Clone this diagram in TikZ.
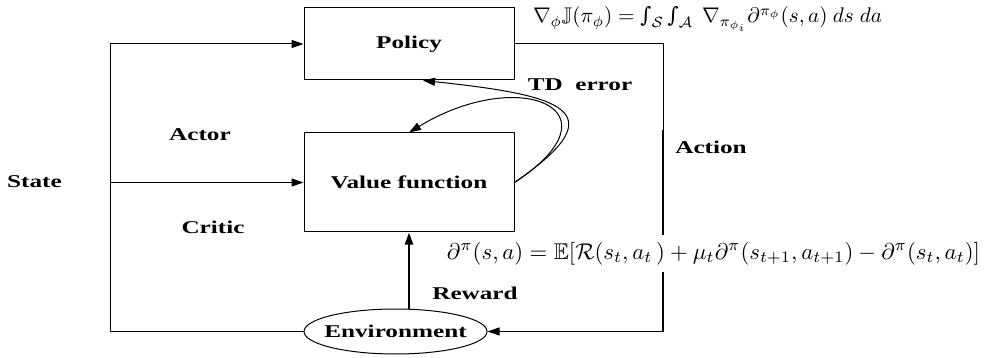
\documentclass[tikz,border=0pt]{standalone}
\usepackage{amsmath,amssymb}
\usepackage{graphicx}
\usepackage{fontspec}
\setmainfont{Liberation Serif}
\newfontfamily\djvfont{DejaVu Serif}
\usetikzlibrary{arrows.meta,shapes.geometric}
\newcommand\wtx[1]{\scalebox{1.4}[1]{#1}}
\newcommand\smint{\mathop{\hbox{\djvfont\itshape ∫}}\nolimits}
\begin{document}
\begin{tikzpicture}[x=1pt,y=-1pt,
  lbl/.style={font=\fontsize{18}{21}\selectfont\bfseries, inner sep=0pt},
  box/.style={draw, line width=1pt, rectangle, minimum width=210pt, inner sep=0pt},
  conn/.style={line width=1pt},
  arr/.style={-{Triangle[length=12pt,width=8pt]}}]
\useasboundingbox (0,0) rectangle (985,358);
\node[box, minimum height=72pt, lbl] (policy) at (409,44) {\wtx{Policy}};
\node[box, minimum height=99pt, lbl] (value) at (409,182.5) {\wtx{Value function}};
\node[draw, ellipse, line width=1pt, minimum width=183pt, minimum height=45pt, inner sep=0pt, lbl] (env) at (395.5,331.5) {\makebox[100pt]{\wtx{Environment}}};
\coordinate (lt) at (110,44);
\coordinate (lb) at (110,331.5);
\coordinate (ls) at (110,182.5);
\coordinate (rt) at (663,44);
\coordinate (rm) at (663,130);
\coordinate (rb) at (663,331.5);
\draw[conn] (env.west) -- (lb) -- (lt);
\draw[conn,arr] (lt) -- (policy.west);
\draw[conn,arr] (ls) -- (value.west);
\draw[conn] (policy.east) -- (rt) -- (rm);
\draw[line width=2pt] (rm) -- (rb);
\draw[conn,arr] (rb) -- (env.east);
\draw[line width=2.2pt,arr] (env.north -| value.south) -- (value.south);
\draw[conn,arr] (value.east) .. controls (620,110) and (560,95) .. ([xshift=14pt]policy.south);
\draw[conn,arr] (value.east) .. controls (625,110) and (520,65) .. (value.north);
\node[lbl] (tdl) at (580,85) {\wtx{TD\ \ error}};
\node[lbl] (actor) at (200,135) {\wtx{Actor}};
\node[lbl] (state) at (34.5,182) {\wtx{State}};
\node[lbl] (critic) at (213,227) {\wtx{Critic}};
\node[lbl] (action) at (711,147) {\wtx{Action}};
\node[lbl] (reward) at (475,293) {\wtx{Reward}};
\node[inner sep=0pt, anchor=base] (f1) at (707.5,23) {\resizebox{349pt}{!}{$\nabla_{\phi}\mathbb{J}(\pi_{\phi}) = \smint_{\mathcal{S}}\smint_{\mathcal{A}}\ \nabla_{\pi_{\phi_i}}\partial^{\pi_{\phi}}(s,a)\ ds\; da$}};
\node[fill=white, inner sep=0pt, minimum height=37pt] (f2) at (713.5,253.5) {\resizebox{533pt}{!}{$\partial^{\pi}(s,a) = \mathbb{E}[\mathcal{R}(s_t,a_t\,) + \mu_t\partial^{\pi}(s_{t+1},a_{t+1}) - \partial^{\pi}(s_t,a_t)]$}};
\end{tikzpicture}
\end{document}
